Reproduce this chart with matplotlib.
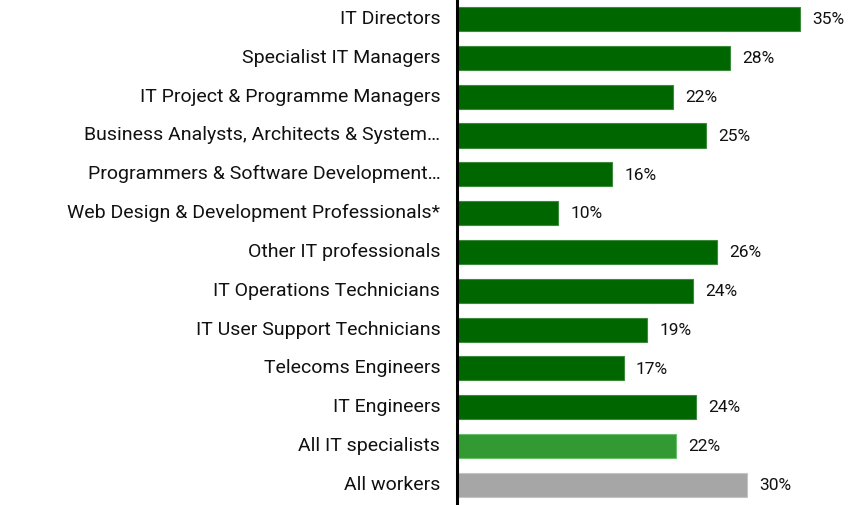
import matplotlib.pyplot as plt

categorias = [
    "IT Directors",
    "Specialist IT Managers",
    "IT Project & Programme Managers",
    "Business Analysts, Architects & System\u2026",
    "Programmers & Software Development\u2026",
    "Web Design & Development Professionals*",
    "Other IT professionals",
    "IT Operations Technicians",
    "IT User Support Technicians",
    "Telecoms Engineers",
    "IT Engineers",
    "All IT specialists",
    "All workers",
]
# longitud de barra (estimada) y etiqueta mostrada
valores = [35.0, 27.8, 22.0, 25.4, 15.8, 10.3, 26.5, 24.1, 19.4, 17.0, 24.4, 22.3, 29.6]
etiquetas = ["35%", "28%", "22%", "25%", "16%", "10%", "26%", "24%", "19%", "17%", "24%", "22%", "30%"]
colores = ["#006600"] * 11 + ["#339933", "#a6a6a6"]
bordes = ["#3d8a3d"] * 11 + ["#6abf6a", "#c4c4c4"]

plt.rcParams['font.family'] = ['Roboto', 'DejaVu Sans']

fig = plt.figure(figsize=(8.5, 5.05), dpi=100)
ax = fig.add_axes([457 / 850, 0, 393 / 850, 1])

pos = list(range(len(categorias)))
ax.barh(pos, valores, height=0.62, color=colores, edgecolor=bordes, linewidth=0.8)

for y, v, t in zip(pos, valores, etiquetas):
    ax.text(v + 1.25, y + 0.02, t, va='center', ha='left', fontsize=12.5, color='#111111')

ax.set_xlim(0, 40.06)
ax.set_ylim(12.52, -0.49)
ax.set_yticks(pos)
ax.set_yticklabels(categorias, fontsize=14, color='#111111', va='center')
for lbl in ax.get_yticklabels():
    lbl.set_y(lbl.get_position()[1])
ax.tick_params(axis='y', length=0, pad=12)
ax.set_xticks([])

for s in ['top', 'right', 'bottom']:
    ax.spines[s].set_visible(False)
ax.spines['left'].set_linewidth(2.2)
ax.spines['left'].set_color('black')

fig.savefig('out.png', dpi=100)
